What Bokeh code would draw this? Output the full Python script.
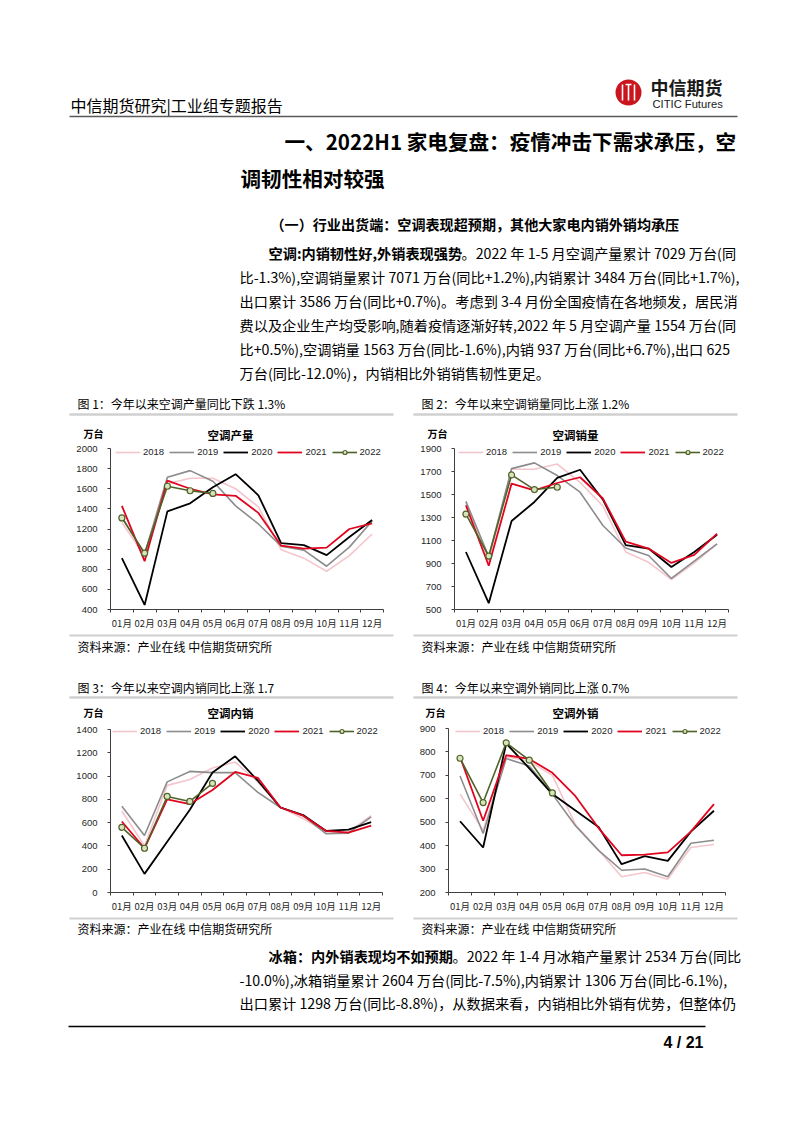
from bokeh.plotting import figure
from bokeh.models import Range1d, FixedTicker, Legend, LegendItem
from bokeh.layouts import column, row
from bokeh.core.properties import value
from bokeh.embed import file_html
from bokeh.resources import INLINE

CJK = "Noto Sans CJK SC"
LAT = "Liberation Sans"

months = ["01月", "02月", "03月", "04月", "05月", "06月", "07月", "08月", "09月", "10月", "11月", "12月"]
years = ["2018", "2019", "2020", "2021", "2022"]

# 空调产量 (万台)
prod_2018 = [1265, 930, 1650, 1705, 1705, 1600, 1420, 995, 910, 780, 935, 1150]
prod_2019 = [1320, 950, 1715, 1780, 1675, 1430, 1250, 1030, 990, 830, 1020, 1280]
prod_2020 = [910, 445, 1375, 1455, 1615, 1745, 1535, 1060, 1040, 940, 1120, 1290]
prod_2021 = [1430, 880, 1680, 1600, 1545, 1530, 1360, 1035, 1005, 1015, 1200, 1255]
prod_2022 = [1310, 960, 1625, 1580, 1554]
prod_ticks = [400, 600, 800, 1000, 1200, 1400, 1600, 1800, 2000]

# 空调销量 (万台)
sales_2018 = [1430, 920, 1720, 1720, 1765, 1605, 1400, 1000, 910, 760, 905, 1070]
sales_2019 = [1440, 960, 1725, 1775, 1665, 1520, 1230, 1035, 970, 770, 920, 1070]
sales_2020 = [1000, 555, 1270, 1435, 1645, 1715, 1455, 1060, 1030, 870, 1000, 1150]
sales_2021 = [1405, 880, 1595, 1535, 1600, 1650, 1465, 1090, 1030, 905, 975, 1160]
sales_2022 = [1330, 965, 1670, 1543, 1563]
sales_ticks = [500, 700, 900, 1100, 1300, 1500, 1700, 1900]

# 空调内销 (万台)
dom_2018 = [700, 400, 920, 970, 1070, 1120, 950, 730, 635, 520, 520, 660]
dom_2019 = [740, 490, 950, 1040, 1030, 1030, 860, 730, 660, 505, 510, 650]
dom_2020 = [490, 160, 435, 710, 1030, 1170, 960, 730, 665, 530, 540, 605]
dom_2021 = [610, 380, 800, 760, 880, 1035, 985, 730, 660, 530, 515, 575]
dom_2022 = [560, 380, 825, 782, 937]
dom_ticks = [0, 200, 400, 600, 800, 1000, 1200, 1400]

# 空调外销 (万台)
exp_2018 = [620, 465, 780, 760, 700, 490, 380, 267, 285, 257, 392, 405]
exp_2019 = [697, 452, 772, 740, 620, 485, 380, 295, 300, 267, 410, 423]
exp_2020 = [504, 392, 836, 730, 620, 550, 480, 321, 355, 335, 460, 549]
exp_2021 = [779, 506, 786, 770, 711, 611, 475, 359, 362, 371, 460, 577]
exp_2022 = [773, 584, 839, 765, 625]
exp_ticks = [200, 300, 400, 500, 600, 700, 800, 900]

AX = "#404040"
COLORS = {"2018": "#f4c6cc", "2019": "#8c8c8c", "2020": "#000000", "2021": "#e0061f", "2022": "#4f6228"}
WIDTHS = {"2018": 1.6, "2019": 1.6, "2020": 1.8, "2021": 1.8, "2022": 1.6}
BODY = 14.2


def tfig(y0, h):
    p = figure(width=802, height=h, x_range=Range1d(0, 802), y_range=Range1d(y0 + h, y0),
               min_border=0, x_axis_type=None, y_axis_type=None,
               output_backend="svg", toolbar_location=None, title=None)
    p.outline_line_color = None
    return p


def put(p, x, y, s, size, bold=False, align="left", color="#000000", font=CJK):
    p.text(x=[x], y=[y], text=[s], text_font=value(font), text_font_size=f"{size}px",
           text_font_style="bold" if bold else "normal", text_align=align,
           text_baseline="middle", text_color=color)


def hline(p, x0, x1, y, color, w):
    p.segment(x0=[x0], y0=[y], x1=[x1], y1=[y], line_color=color, line_width=w)


def chart(width, height, left, right, bottom, frame_top, y_ticks, y_top_px, y_bot_px, data,
          legend_xy, spacing):
    lo, hi = y_ticks[0], y_ticks[-1]
    per_px = (hi - lo) / (y_bot_px - y_top_px)
    y_end = hi + (y_top_px - frame_top) * per_px
    p = figure(width=width, height=height, x_range=Range1d(0.5, 12.5), y_range=Range1d(lo, y_end),
               min_border_left=left, min_border_right=right, min_border_top=0, min_border_bottom=bottom,
               output_backend="svg", toolbar_location=None, title=None)
    p.outline_line_color = None
    p.grid.visible = False
    pos = list(range(1, 13))
    xa = p.xaxis[0]
    xa.ticker = FixedTicker(ticks=pos, minor_ticks=[k + 0.5 for k in range(0, 13)])
    xa.major_label_overrides = {k: m for k, m in zip(pos, months)}
    xa.axis_line_color = AX
    xa.major_tick_line_color = None
    xa.major_tick_out = 3
    xa.major_tick_in = 0
    xa.minor_tick_line_color = AX
    xa.minor_tick_out = 3
    xa.minor_tick_in = 0
    xa.major_label_standoff = 3
    xa.major_label_text_font = CJK
    xa.major_label_text_font_size = "9.5px"
    xa.major_label_text_color = "#262626"
    ya = p.yaxis[0]
    ya.ticker = FixedTicker(ticks=y_ticks)
    ya.bounds = (lo, hi)
    ya.axis_line_color = AX
    ya.major_tick_line_color = AX
    ya.major_tick_out = 3
    ya.major_tick_in = 0
    ya.minor_tick_line_color = None
    ya.major_label_standoff = 10
    ya.major_label_text_font = LAT
    ya.major_label_text_font_size = "9.5px"
    ya.major_label_text_color = "#262626"
    items = []
    for yr, vals in zip(years, data):
        xs = pos[:len(vals)]
        r = p.line(xs, vals, line_color=COLORS[yr], line_width=WIDTHS[yr])
        rs = [r]
        if yr == "2022":
            s = p.scatter(xs, vals, marker="circle", size=6, fill_color="#d7e4bd",
                          line_color=COLORS[yr], line_width=1.2)
            rs.append(s)
        items.append(LegendItem(label=yr, renderers=rs))
    lg = Legend(items=items, orientation="horizontal", location=legend_xy,
                glyph_width=25, glyph_height=10, label_standoff=3, spacing=spacing,
                padding=0, margin=0, border_line_color=None, background_fill_alpha=0,
                label_height=10, label_text_font=LAT, label_text_font_size="9.5px",
                label_text_color="#262626")
    p.add_layout(lg)
    return p


# ---------- top text block ----------
A = tfig(0, 442)
put(A, 70, 104, "中信期货研究|工业组专题报告", 16)
A.scatter(x=[628], y=[92], marker="circle", size=26, fill_color="#c9151e", line_color=None)
for xx in [622, 628, 634]:
    A.segment(x0=[xx], y0=[84], x1=[xx], y1=[100], line_color="white", line_width=1.6)
A.segment(x0=[625], y0=[84], x1=[631], y1=[84], line_color="white", line_width=1.6)
put(A, 650, 86, "中信期货", 18, bold=True, color="#1a1a1a")
put(A, 652, 103, "CITIC Futures", 11.2, color="#1a1a1a", font=LAT)
hline(A, 69, 737, 116, "#5a5a5a", 1.5)
put(A, 284, 140, "一、2022H1 家电复盘：疫情冲击下需求承压，空", 20.6, bold=True)
put(A, 240, 177, "调韧性相对较强", 20.6, bold=True)
put(A, 270, 223, "（一）行业出货端：空调表现超预期，其他大家电内销外销均承压", 14.1, bold=True)
put(A, 268, 252, "空调:内销韧性好,外销表现强势", BODY, bold=True)
put(A, 461, 252, "。2022 年 1-5 月空调产量累计 7029 万台(同", BODY)
para = [
    "比-1.3%),空调销量累计 7071 万台(同比+1.2%),内销累计 3484 万台(同比+1.7%),",
    "出口累计 3586 万台(同比+0.7%)。考虑到 3-4 月份全国疫情在各地频发，居民消",
    "费以及企业生产均受影响,随着疫情逐渐好转,2022 年 5 月空调产量 1554 万台(同",
    "比+0.5%),空调销量 1563 万台(同比-1.6%),内销 937 万台(同比+6.7%),出口 625",
    "万台(同比-12.0%)，内销相比外销销售韧性更足。",
]
for i, s in enumerate(para):
    put(A, 239, 276 + i * 24, s, BODY)
put(A, 77, 403, "图 1：今年以来空调产量同比下跌 1.3%", 12)
put(A, 421, 403, "图 2：今年以来空调销量同比上涨 1.2%", 12)
hline(A, 69, 393, 414, "#d0d0d0", 2.5)
hline(A, 413, 737, 414, "#d0d0d0", 2.5)
put(A, 83, 433, "万台", 10, bold=True)
put(A, 427, 433, "万台", 10, bold=True)
put(A, 230, 434, "空调产量", 11.5, bold=True, align="center")
put(A, 575, 434, "空调销量", 11.5, bold=True, align="center")

# ---------- charts row 1 ----------
c1 = chart(401, 190, 110, 18, 23, 442, prod_ticks, 448, 609,
           [prod_2018, prod_2019, prod_2020, prod_2021, prod_2022], (5, 152), 5)
c2 = chart(401, 190, 53, 74, 23, 442, sales_ticks, 448, 609,
           [sales_2018, sales_2019, sales_2020, sales_2021, sales_2022], (4, 152), 5)

# ---------- middle text block ----------
C = tfig(632, 89)
hline(C, 69, 393, 635, "#d0d0d0", 2)
hline(C, 413, 737, 635, "#d0d0d0", 2)
put(C, 77, 646, "资料来源：产业在线  中信期货研究所", 12)
put(C, 421, 646, "资料来源：产业在线  中信期货研究所", 12)
put(C, 77, 687, "图 3：今年以来空调内销同比上涨 1.7", 12)
put(C, 421, 687, "图 4：今年以来空调外销同比上涨 0.7%", 12)
hline(C, 69, 393, 697, "#d0d0d0", 2.5)
hline(C, 413, 737, 697, "#d0d0d0", 2.5)
put(C, 83, 711.5, "万台", 10, bold=True)
put(C, 425, 711.5, "万台", 10, bold=True)
put(C, 230, 712.5, "空调内销", 11.5, bold=True, align="center")
put(C, 575, 712.5, "空调外销", 11.5, bold=True, align="center")

# ---------- charts row 2 ----------
c3 = chart(401, 194, 110, 19, 23, 721, dom_ticks, 729, 892,
           [dom_2018, dom_2019, dom_2020, dom_2021, dom_2022], (2, 156), 5)
c4 = chart(401, 194, 47, 77, 23, 721, exp_ticks, 728, 892,
           [exp_2018, exp_2019, exp_2020, exp_2021, exp_2022], (7, 156), 5)

# ---------- bottom text block ----------
D = tfig(915, 218)
hline(D, 69, 393, 918, "#d0d0d0", 2)
hline(D, 413, 737, 918, "#d0d0d0", 2)
put(D, 77, 928, "资料来源：产业在线  中信期货研究所", 12)
put(D, 421, 928, "资料来源：产业在线  中信期货研究所", 12)
put(D, 268, 955, "冰箱：内外销表现均不如预期", BODY, bold=True)
put(D, 452, 955, "。2022 年 1-4 月冰箱产量累计 2534 万台(同比", BODY)
put(D, 239, 979, "-10.0%),冰箱销量累计 2604 万台(同比-7.5%),内销累计 1306 万台(同比-6.1%),", BODY)
put(D, 239, 1002, "出口累计 1298 万台(同比-8.8%)，从数据来看，内销相比外销有优势，但整体仍", BODY)
hline(D, 68, 705, 1026, "#000000", 1.5)
put(D, 703, 1042, "4 / 21", 16, bold=True, align="right", font=LAT)

layout = column(A, row(c1, c2), C, row(c3, c4), D)
open("out.html", "w").write(file_html(layout, INLINE))
